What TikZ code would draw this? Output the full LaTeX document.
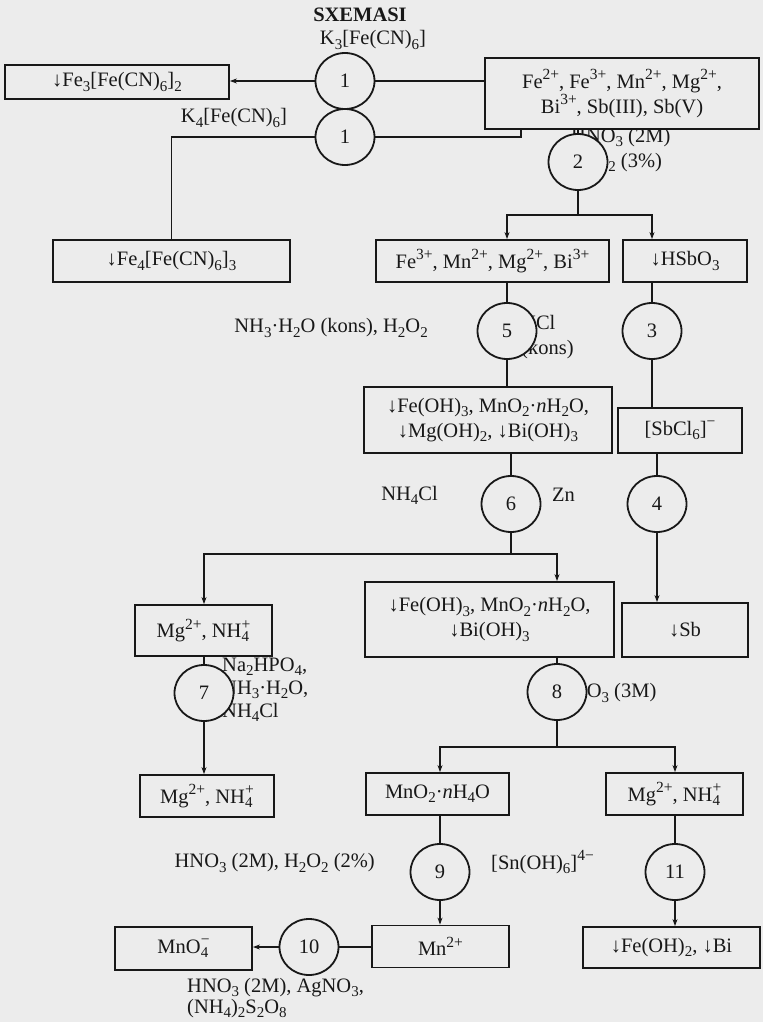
\documentclass[tikz,border=0pt]{standalone}
\usepackage{fontspec}
\setmainfont{Liberation Serif}
\usetikzlibrary{arrows.meta,shapes.geometric}
\definecolor{paper}{RGB}{236,236,236}
\definecolor{ink}{RGB}{24,24,24}
\newcommand{\chlo}[1]{\raisebox{-0.2em}{\fontsize{15}{15}\selectfont #1}}
\newcommand{\chhi}[1]{\raisebox{0.42em}{\fontsize{15.5}{15.5}\selectfont #1}}
\newcommand{\chlohi}[2]{\rlap{\chlo{#1}}\chhi{#2}}
\newcommand{\fs}{\fontsize{20.5}{25}\selectfont}

\begin{document}
\begin{tikzpicture}[x=1pt,y=-1pt,
  box/.style={draw=ink,line width=1.8pt,fill=paper,inner sep=0pt,align=center,font=\fs,text=ink},
  stage/.style={ellipse,draw=ink,line width=1.8pt,fill=paper,inner sep=0pt,
    minimum width=59pt,minimum height=56pt,font=\fs,text=ink},
  lbl/.style={inner sep=0pt,font=\fs,text=ink},
  link/.style={draw=ink,line width=1.8pt},
  flow/.style={link,-{Stealth[length=7pt,width=5pt]}},
]
% page
\fill[paper] (0,0) rectangle (763,1022);
\useasboundingbox (0,0) rectangle (763,1022);

% reagent labels (drawn first; stage circles and boxes sit on top of them)
\node[lbl] (title) at (360,15) {\bfseries SXEMASI};
\node[lbl] (r1a) at (373,40) {K\chlo{3}[Fe(CN)\chlo{6}]};
\node[lbl] (r1b) at (234,118) {K\chlo{4}[Fe(CN)\chlo{6}]};
\node[lbl,align=left,anchor=west] (r2) at (571,150) {HNO\chlo{3} (2M)\\H\chlo{2}O\chlo{2} (3\%)};
\node[lbl,anchor=east] (r5a) at (428,328) {NH\chlo{3}·H\chlo{2}O (kons), H\chlo{2}O\chlo{2}};
\node[lbl,align=left,anchor=west] (r5b) at (521,337) {HCl\\(kons)};
\node[lbl,anchor=east] (r6a) at (438,495) {NH\chlo{4}Cl};
\node[lbl,anchor=west] (r6b) at (552,495) {Zn};
\node[lbl,align=left,anchor=west,font=\fontsize{20.5}{23}\selectfont] (r7) at (222,690)
  {Na\chlo{2}HPO\chlo{4},\\NH\chlo{3}·H\chlo{2}O,\\NH\chlo{4}Cl};
\node[lbl,anchor=west] (r8) at (557,693) {HNO\chlo{3} (3M)};
\node[lbl,anchor=east] (r9a) at (375,863) {HNO\chlo{3} (2M), H\chlo{2}O\chlo{2} (2\%)};
\node[lbl,anchor=west] (r9b) at (491,862) {[Sn(OH)\chlo{6}]\chhi{4−}};
\node[lbl,align=left,anchor=west,font=\fontsize{20.5}{21}\selectfont] (r10) at (187,998)
  {HNO\chlo{3} (2M), AgNO\chlo{3},\\(NH\chlo{4})\chlo{2}S\chlo{2}O\chlo{8}};

% boxes
\node[box,minimum width=224pt,minimum height=34pt] (A) at (117,82) {↓Fe\chlo{3}[Fe(CN)\chlo{6}]\chlo{2}};
\node[box,minimum width=274pt,minimum height=71pt] (B) at (622,93.5)
  {Fe\chhi{2+}, Fe\chhi{3+}, Mn\chhi{2+}, Mg\chhi{2+},\\Bi\chhi{3+}, Sb(III), Sb(V)};
\node[box,minimum width=237pt,minimum height=42pt] (Fe4) at (171.5,261) {↓Fe\chlo{4}[Fe(CN)\chlo{6}]\chlo{3}};
\node[box,minimum width=233pt,minimum height=42pt] (C) at (492.5,261)
  {Fe\chhi{3+}, Mn\chhi{2+}, Mg\chhi{2+}, Bi\chhi{3+}};
\node[box,minimum width=124pt,minimum height=42pt] (D) at (685,261) {↓HSbO\chlo{3}};
\node[box,minimum width=248pt,minimum height=66pt] (E) at (488,420)
  {↓Fe(OH)\chlo{3}, MnO\chlo{2}·\textit{n}H\chlo{2}O,\\↓Mg(OH)\chlo{2}, ↓Bi(OH)\chlo{3}};
\node[box,minimum width=124pt,minimum height=45pt] (F) at (680,430.5) {[SbCl\chlo{6}]\chhi{−}};
\node[box,minimum width=137pt,minimum height=51pt] (G) at (203.5,630.5) {Mg\chhi{2+}, NH\chlohi{4}{+}};
\node[box,minimum width=249pt,minimum height=75pt] (H) at (489.5,619.5)
  {↓Fe(OH)\chlo{3}, MnO\chlo{2}·\textit{n}H\chlo{2}O,\\↓Bi(OH)\chlo{3}};
\node[box,minimum width=126pt,minimum height=54pt] (I) at (685,630) {↓Sb};
\node[box,minimum width=134pt,minimum height=42pt] (J) at (207,796) {Mg\chhi{2+}, NH\chlohi{4}{+}};
\node[box,minimum width=143pt,minimum height=42pt] (K) at (437.5,794) {MnO\chlo{2}·\textit{n}H\chlo{4}O};
\node[box,minimum width=137pt,minimum height=42pt] (L) at (674.5,794) {Mg\chhi{2+}, NH\chlohi{4}{+}};
\node[box,minimum width=137pt,minimum height=42pt] (M) at (440.5,946.5) {Mn\chhi{2+}};
\node[box,minimum width=177pt,minimum height=41pt] (N) at (671.5,947.5) {↓Fe(OH)\chlo{2}, ↓Bi};
\node[box,minimum width=137pt,minimum height=43pt] (O) at (183.5,948.5) {MnO\chlohi{4}{−}};

% stages
\node[stage] (c1a) at (345,81) {1};
\node[stage] (c1b) at (345,137) {1};
\node[stage] (c2) at (578,162) {2};
\node[stage] (c5) at (507,331) {5};
\node[stage] (c3) at (652,331) {3};
\node[stage] (c6) at (511,504) {6};
\node[stage] (c4) at (657,504) {4};
\node[stage] (c7) at (204,693) {7};
\node[stage] (c8) at (557,692) {8};
\node[stage] (c9) at (440,872) {9};
\node[stage] (c11) at (675,872) {11};
\node[stage] (c10) at (309,947) {10};

% junction points of the branching lines
\coordinate (j2) at (578,215);
\coordinate (j6) at (511,554);
\coordinate (j8) at (557,747);

% connectors
\draw[link] (B.west |- c1a) -- (c1a.east);
\draw[flow] (c1a.west) -- (A.east |- c1a);
\draw[link] ([xshift=-101pt]B.south) |- (c1b.east);
\draw[link] (c1b.west) -| (Fe4.north);
\draw[link] (B.south -| c2) -- (c2.north);
\draw[link] (c2.south) -- (j2);
\draw[flow] (j2) -| (C.north -| c5);
\draw[flow] (j2) -| (D.north -| c3);
\draw[link] (C.south -| c5) -- (c5.north);
\draw[link] (c5.south) -- (E.north -| c5);
\draw[link] (D.south -| c3) -- (c3.north);
\draw[link] (c3.south) -- (F.north -| c3);
\draw[link] (E.south -| c6) -- (c6.north);
\draw[link] (F.south -| c4) -- (c4.north);
\draw[flow] (c4.south) -- (I.north -| c4);
\draw[link] (c6.south) -- (j6);
\draw[flow] (j6) -| (G.north -| c7);
\draw[flow] (j6) -| (H.north -| c8);
\draw[link] (G.south -| c7) -- (c7.north);
\draw[flow] (c7.south) -- (J.north -| c7);
\draw[link] (H.south -| c8) -- (c8.north);
\draw[link] (c8.south) -- (j8);
\draw[flow] (j8) -| (K.north -| c9);
\draw[flow] (j8) -| (L.north -| c11);
\draw[link] (K.south -| c9) -- (c9.north);
\draw[flow] (c9.south) -- (M.north -| c9);
\draw[link] (L.south -| c11) -- (c11.north);
\draw[flow] (c11.south) -- (N.north -| c11);
\draw[link] (M.west |- c10) -- (c10.east);
\draw[flow] (c10.west) -- (O.east |- c10);
\end{tikzpicture}
\end{document}
